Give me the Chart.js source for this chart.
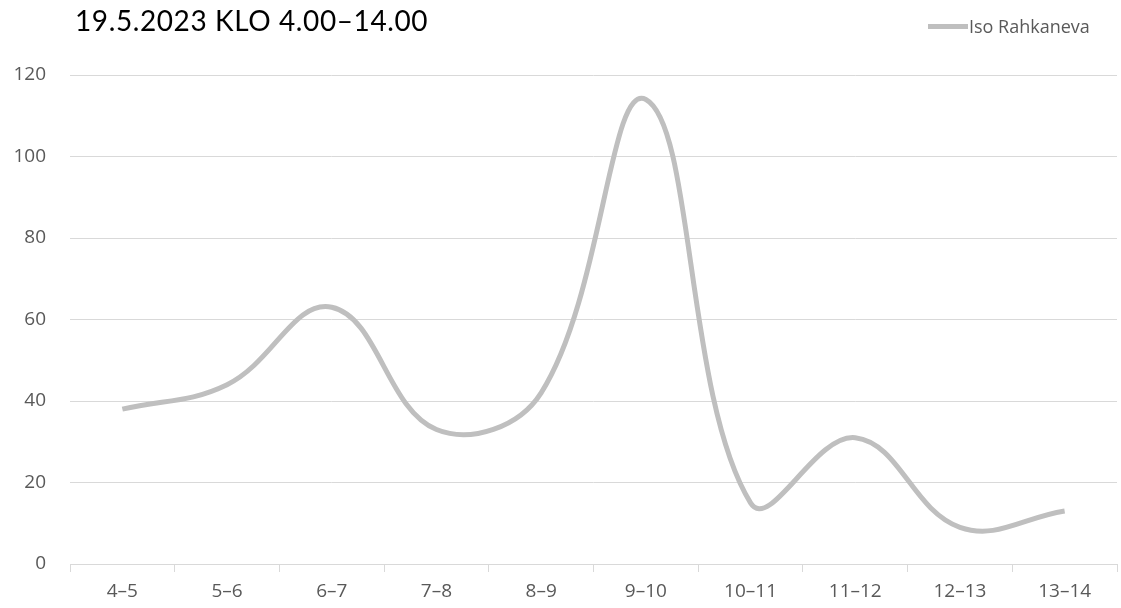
<!DOCTYPE html>
<html>
<head>
<meta charset="utf-8">
<script src="https://cdn.jsdelivr.net/npm/chart.js@4/dist/chart.umd.min.js"></script>
<style>
html,body{margin:0;padding:0;background:#fff;}
#wrap{position:relative;width:1121px;height:608px;}
#title{position:absolute;left:75px;top:3px;font-family:Lato,"Open Sans",sans-serif;font-size:28px;color:#000;white-space:nowrap;letter-spacing:0.6px;}
#legend{position:absolute;left:928px;top:14px;font-family:"Open Sans",sans-serif;font-size:18px;color:#595959;white-space:nowrap;display:flex;align-items:center;}
#legend span.sw{display:inline-block;width:40px;height:5px;background:#bfbfbf;margin-right:1px;}
canvas{position:absolute;left:0;top:0;}
</style>
</head>
<body>
<div id="wrap">
<canvas id="c" width="1121" height="608"></canvas>
<div id="title">19.5.2023 KLO 4.00–14.00</div>
<div id="legend"><span class="sw"></span><span id="legtext"></span></div>
</div>
<script>
const categories = ["4–5","5–6","6–7","7–8","8–9","9–10","10–11","11–12","12–13","13–14"];
const seriesName = "Iso Rahkaneva";
const values = [38, 44, 63, 33, 42, 114, 15, 31, 9, 13];
const yTicks = [0, 20, 40, 60, 80, 100, 120];

document.getElementById('legtext').textContent = seriesName;

new Chart(document.getElementById('c'), {
  type: 'line',
  data: {
    labels: categories,
    datasets: [{
      label: seriesName,
      data: values,
      borderColor: '#bfbfbf',
      borderWidth: 5,
      pointRadius: 0,
      tension: 0.4,
      fill: false,
      borderCapStyle: 'butt'
    }]
  },
  options: {
    responsive: false,
    animation: false,
    layout: { padding: { top: 75, right: 4, bottom: 0, left: 0 } },
    plugins: { legend: { display: false }, tooltip: { enabled: false }, title: { display: false } },
    scales: {
      x: {
        offset: true,
        grid: { display: true, drawOnChartArea: false, drawTicks: true, tickLength: 8, color: '#d9d9d9', offset: true },
        border: { display: true, color: '#d9d9d9', width: 1 },
        ticks: { color: '#595959', font: { family: '"Open Sans", sans-serif', size: 19 }, padding: 8, maxRotation: 0, autoSkip: false },
        afterFit: s => { s.height = 44; }
      },
      y: {
        min: 0, max: 120,
        afterBuildTicks: s => { s.ticks = yTicks.map(v => ({ value: v })); },
        grid: { color: '#d9d9d9', drawTicks: false, lineWidth: 1 },
        border: { display: false },
        ticks: { color: '#595959', font: { family: '"Open Sans", sans-serif', size: 19 }, padding: 24 },
        afterFit: s => { s.width = 70; }
      }
    }
  }
});
</script>
</body>
</html>
